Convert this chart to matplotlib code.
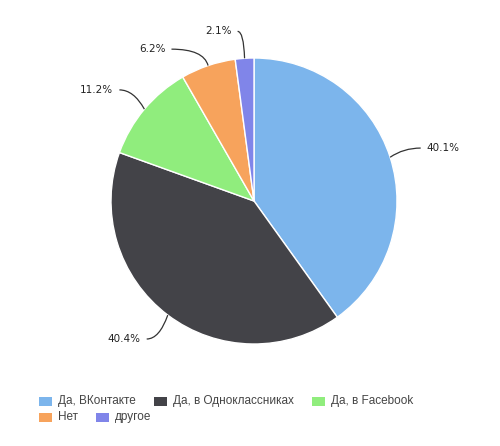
import numpy as np
import matplotlib
matplotlib.use("Agg")
import matplotlib.pyplot as plt
from matplotlib.path import Path
from matplotlib.patches import PathPatch, Rectangle

# data
labels = ["Да, ВКонтакте", "Да, в Одноклассниках", "Да, в Facebook", "Нет", "другое"]
shares = [40.1, 40.4, 11.2, 6.2, 2.1]
colors = ["#7cb5ec", "#434348", "#90ed7d", "#f7a35c", "#8085e9"]

W, H = 500, 446
fig = plt.figure(figsize=(W / 100, H / 100), dpi=100)
ax = fig.add_axes([0, 0, 1, 1])

# pie geometry in pixels (y measured from top)
cx, cy, R = 254, 201, 143
def py(y):
    return H - y

wedges, _ = ax.pie(shares, colors=colors, startangle=90, counterclock=False,
                   center=(cx, py(cy)), radius=R,
                   wedgeprops=dict(edgecolor="white", linewidth=1))
ax.set_xlim(0, W)
ax.set_ylim(0, H)
ax.set_aspect("auto")
ax.axis("off")

# data labels with curved connectors
drop = [0, 0, 0, 12, 3]     # labels pushed down to avoid overlap (px)
reach = [2, 3, 2, 27, 5]    # extra horizontal length of connector (px)
for w, v, dy, dx in zip(wedges, shares, drop, reach):
    a = np.deg2rad((w.theta1 + w.theta2) / 2)
    c, s = np.cos(a), np.sin(a)
    side = 1 if c >= 0 else -1
    x0, y0 = cx + R * c, py(cy) + R * s
    ex = cx + (R + 30) * c + side * dx
    ey = py(cy) + (R + 30) * s - dy
    kx = cx + (R + 14) * c
    verts = [(x0, y0), (kx, ey), (ex, ey)]
    ax.add_patch(PathPatch(Path(verts, [Path.MOVETO, Path.CURVE3, Path.CURVE3]),
                           fill=False, edgecolor="#333333", linewidth=0.9))
    ax.text(ex + side * 6, ey, f"{v}%", ha="left" if side > 0 else "right",
            va="center", fontsize=7.5, color="#222222", family="DejaVu Sans")

# legend, flowing like the original
fig.canvas.draw()
rend = fig.canvas.get_renderer()
x, row_y = 39, 401
for lab, col in zip(labels, colors):
    t = ax.text(0, 0, lab, fontsize=8.5, color="#444444", family="Liberation Sans",
                va="center", ha="left")
    tw = t.get_window_extent(renderer=rend).width
    if x + 19 + tw > 440:
        x, row_y = 39, row_y + 16
    ax.add_patch(Rectangle((x, py(row_y) - 4.5), 13, 9, facecolor=col, edgecolor="none"))
    t.set_position((x + 19, py(row_y)))
    x += 19 + tw + 18

fig.savefig("out.png", dpi=100)
